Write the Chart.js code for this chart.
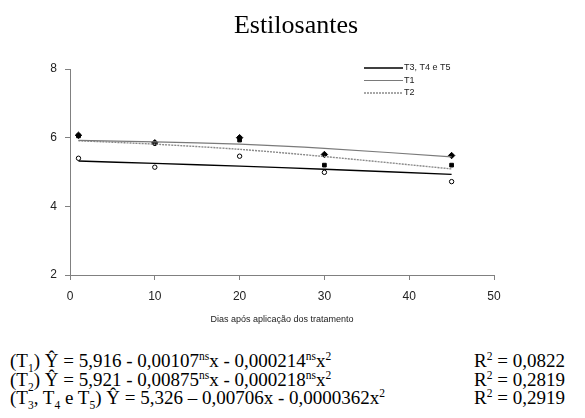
<!DOCTYPE html>
<html>
<head>
<meta charset="utf-8">
<script src="https://cdn.jsdelivr.net/npm/chart.js@4/dist/chart.umd.min.js"></script>
<style>
  html, body { margin: 0; padding: 0; background: #fff; }
  #wrap { position: relative; width: 585px; height: 418px; }
  #chart-box { position: absolute; left: 0; top: 0; width: 585px; height: 329px; }
  .eq { position: absolute; left: 10px; font-family: "Liberation Serif", "Times New Roman", serif;
        font-size: 19px; color: #000; white-space: nowrap; line-height: 18px; }
  .r2 { position: absolute; left: 474px; font-family: "Liberation Serif", "Times New Roman", serif;
        font-size: 19px; color: #000; white-space: nowrap; line-height: 18px; }
  sub, sup { font-size: 11.5px; line-height: 0; }
</style>
</head>
<body>
<div id="wrap">
  <div id="chart-box"><canvas id="chart"></canvas></div>
  <div class="eq" style="top:352px">(T<sub>1</sub>) Ŷ = 5,916 - 0,00107<sup>ns</sup>x - 0,000214<sup>ns</sup>x<sup>2</sup></div>
  <div class="r2" style="top:352px">R<sup>2</sup> = 0,0822</div>
  <div class="eq" style="top:370.5px">(T<sub>2</sub>) Ŷ = 5,921 - 0,00875<sup>ns</sup>x - 0,000218<sup>ns</sup>x<sup>2</sup></div>
  <div class="r2" style="top:370.5px">R<sup>2</sup> = 0,2819</div>
  <div class="eq" style="top:389px">(T<sub>3</sub>, T<sub>4</sub> e T<sub>5</sub>) Ŷ = 5,326 – 0,00706x - 0,0000362x<sup>2</sup></div>
  <div class="r2" style="top:389px">R<sup>2</sup> = 0,2919</div>
</div>
<script>
// ── Data ──────────────────────────────────────────────────────────────────────
const days = [1, 10, 20, 30, 45];

// observed means
const obsT1  = [6.07, 5.85, 6.00, 5.51, 5.48];   // filled diamonds
const obsT2  = [6.05, 5.84, 5.93, 5.20, 5.20];   // filled squares
const obsT3  = [5.40, 5.14, 5.46, 4.99, 4.72];   // open circles

// fitted curves
const fitT1  = [5.92, 5.88, 5.81, 5.69, 5.44];
const fitT2  = [5.91, 5.81, 5.66, 5.45, 5.09];
const fitT3  = [5.32, 5.25, 5.17, 5.08, 4.93];

const xTicks = [0, 10, 20, 30, 40, 50];
const yTicks = [2, 4, 6, 8];

const toXY = (ys) => days.map((d, i) => ({ x: d, y: ys[i] }));

function pointSet(label, ys, style, radius, fill) {
  return {
    label, data: toXY(ys), showLine: false,
    pointStyle: style, pointRadius: radius, pointHoverRadius: radius,
    pointBackgroundColor: fill, pointBorderColor: '#000', pointBorderWidth: 1,
    inLegend: false,
  };
}

function lineSet(label, ys, color, width, dash) {
  return {
    label, data: toXY(ys), showLine: true, tension: 0.3,
    borderColor: color, borderWidth: width, borderDash: dash,
    pointRadius: 0, pointHoverRadius: 0, fill: false,
    inLegend: true,
  };
}

// ── Title + legend drawn by hand ──────────────────────────────────────────────
const decor = {
  id: 'decor',
  afterDraw(chart) {
    const ctx = chart.ctx;
    ctx.save();
    ctx.fillStyle = '#000';
    ctx.font = '26px "Liberation Serif", "Times New Roman", serif';
    ctx.textAlign = 'center';
    ctx.textBaseline = 'middle';
    ctx.fillText('Estilosantes', 296, 26);

    const items = chart.data.datasets.filter(d => d.inLegend);
    ctx.font = '9px "Liberation Sans", Arial, sans-serif';
    ctx.textAlign = 'left';
    items.forEach((d, i) => {
      const y = 68 + i * 12.5;
      ctx.strokeStyle = d.borderColor;
      ctx.lineWidth = d.borderWidth;
      ctx.setLineDash(d.borderDash || []);
      ctx.beginPath();
      ctx.moveTo(364, y);
      ctx.lineTo(403, y);
      ctx.stroke();
      ctx.setLineDash([]);
      ctx.fillStyle = '#222';
      ctx.fillText(d.label, 404, y);
    });
    ctx.restore();
  },
};

new Chart(document.getElementById('chart'), {
  type: 'scatter',
  data: {
    datasets: [
      lineSet('T3, T4 e T5', fitT3, '#000', 1.4, []),
      lineSet('T1', fitT1, '#7a7a7a', 1.2, []),
      lineSet('T2', fitT2, '#8a8a8a', 1.4, [2, 1]),
      pointSet('T1 obs', obsT1, 'rectRot', 3.2, '#000'),
      pointSet('T2 obs', obsT2, 'rect', 2.6, '#000'),
      pointSet('T3 obs', obsT3, 'circle', 2.2, '#fff'),
    ],
  },
  options: {
    responsive: true,
    maintainAspectRatio: false,
    animation: false,
    layout: { padding: { top: 69, right: 91, left: 0, bottom: 0 } },
    plugins: {
      legend: { display: false },
      tooltip: { enabled: false },
      title: { display: false },
    },
    scales: {
      x: {
        type: 'linear', min: 0, max: 50,
        afterBuildTicks: (s) => { s.ticks = xTicks.map(v => ({ value: v })); },
        afterFit: (s) => { s.height = 54; },
        border: { color: '#808080', width: 1 },
        grid: { drawOnChartArea: false, tickLength: 5, color: '#808080' },
        ticks: { color: '#222', padding: 9, font: { family: '"Liberation Sans", Arial, sans-serif', size: 12 } },
        title: {
          display: true, text: 'Dias após aplicação dos tratamento', color: '#222',
          font: { family: '"Liberation Sans", Arial, sans-serif', size: 9 }, padding: { top: 4 },
        },
      },
      y: {
        min: 2, max: 8,
        afterBuildTicks: (s) => { s.ticks = yTicks.map(v => ({ value: v })); },
        afterFit: (s) => { s.width = 70; },
        border: { color: '#808080', width: 1 },
        grid: { drawOnChartArea: false, tickLength: 5, color: '#808080' },
        ticks: { color: '#222', padding: 8, font: { family: '"Liberation Sans", Arial, sans-serif', size: 12 } },
      },
    },
  },
  plugins: [decor],
});
</script>
</body>
</html>
